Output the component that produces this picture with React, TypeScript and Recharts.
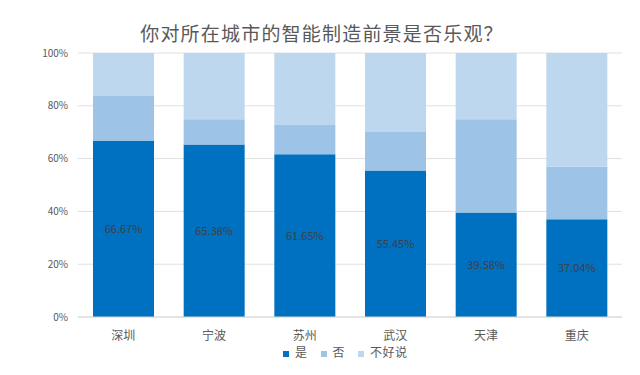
import React from 'react';
import { BarChart, Bar, XAxis, YAxis, CartesianGrid, Legend, LabelList } from 'recharts';

const cities = ['深圳', '宁波', '苏州', '武汉', '天津', '重庆'];
const yesValues = [66.67, 65.38, 61.65, 55.45, 39.58, 37.04];
const noValues = [17.0, 9.5, 11.1, 14.6, 35.3, 19.9];
const unsureValues = [16.33, 25.12, 27.25, 29.95, 25.12, 43.06];
const yTicks = [0, 20, 40, 60, 80, 100];
const seriesOrder = ['是', '否', '不好说'];

const data = cities.map((city, i) => ({
  city,
  是: yesValues[i],
  否: noValues[i],
  不好说: unsureValues[i],
}));

const FONT = '"Noto Sans CJK SC", "Noto Sans", sans-serif';

const App: React.FC = () => {
  return (
    <div style={{ position: 'absolute', top: 0, left: 0, width: 640, height: 375, background: '#fff', fontFamily: FONT }}>
      <div
        style={{
          position: 'absolute',
          top: 22,
          left: 0,
          width: 644,
          textAlign: 'center',
          fontSize: 19,
          letterSpacing: 1.2,
          lineHeight: '22px',
          color: '#595959',
        }}
      >
        你对所在城市的智能制造前景是否乐观？
      </div>
      <BarChart
        width={640}
        height={375}
        data={data}
        margin={{ top: 53, right: 18, left: 0, bottom: 14 }}
      >
        <CartesianGrid vertical={false} stroke="#E0E0E0" />
        <XAxis
          dataKey="city"
          height={26}
          axisLine={{ stroke: '#D9D9D9' }}
          tickLine={false}
          tickMargin={8}
          tick={{ fontSize: 12, fill: '#595959', fontFamily: FONT }}
        />
        <YAxis
          width={78}
          domain={[0, 100]}
          ticks={yTicks}
          axisLine={false}
          tickLine={false}
          tickSize={0}
          tickMargin={10}
          tickFormatter={(v) => `${v}%`}
          tick={{ fontSize: 10, fill: '#595959', fontFamily: FONT }}
        />
        <Legend
          verticalAlign="bottom"
          align="left"
          iconType="square"
          iconSize={6}
          itemSorter={(item: any) => seriesOrder.indexOf(String(item.dataKey))}
          wrapperStyle={{ left: 283, width: 220, fontSize: 12, fontFamily: FONT, lineHeight: '18px' }}
          formatter={(value) => (
            <span style={{ color: '#595959', marginLeft: 2, marginRight: 3, letterSpacing: 0.5 }}>{value}</span>
          )}
        />
        <Bar dataKey="是" stackId="a" fill="#0070C0" barSize={61} isAnimationActive={false}>
          <LabelList
            dataKey="是"
            position="center"
            formatter={(v: number) => `${v.toFixed(2)}%`}
            fill="#404040"
            fontSize={11}
            fontFamily={FONT}
          />
        </Bar>
        <Bar dataKey="否" stackId="a" fill="#9DC3E6" barSize={61} isAnimationActive={false} />
        <Bar dataKey="不好说" stackId="a" fill="#BDD7EE" barSize={61} isAnimationActive={false} />
      </BarChart>
    </div>
  );
};

export default App;
